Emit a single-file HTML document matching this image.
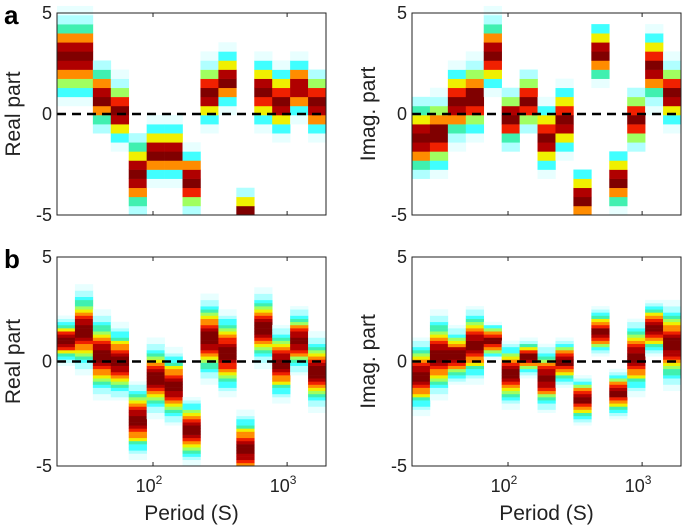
<!DOCTYPE html>
<html><head><meta charset="utf-8"><style>
body{margin:0;background:#fff}
svg{display:block;font-family:"Liberation Sans",sans-serif}
</style></head><body>
<svg id="fig" width="685" height="530" viewBox="0 0 685 530"></svg>
<script>
// ---- data: period columns (log-spaced, 15 per panel) ----
const xDomainLog = [1.284, 3.29];
const nCols = 15;
const aRealCenter = [2.8, 2.8, 0.8, 0.1, -3.0, -1.9, -1.9, -3.3, 1.0, 1.7, -4.9, 1.1, 0.6, 1.3, 0.5];
const aRealSpread = [1.0, 1.0, 0.8, 0.8, 0.9, 0.7, 0.7, 0.8, 0.8, 0.7, 0.55, 0.8, 0.8, 0.7, 0.8];
const aImagCenter = [-1.2, -1.0, 0.5, 0.8, 3.0, -0.2, 0.6, -1.2, -0.3, -4.2, 3.0, -3.3, -0.3, 2.3, 1.0];
const aImagSpread = [0.9, 0.9, 0.9, 0.9, 0.9, 0.7, 0.7, 0.8, 0.8, 0.7, 0.7, 0.7, 0.7, 0.9, 0.8];
const bRealCenter = [1.0, 1.5, 0.3, 0.0, -2.8, -0.8, -1.2, -3.3, 1.1, 0.4, -4.2, 1.6, -0.1, 1.0, -0.5];
const bRealSpread = [0.5, 0.9, 0.9, 0.8, 0.8, 0.8, 0.8, 0.7, 0.9, 0.9, 0.8, 0.8, 0.8, 0.7, 0.8];
const bImagCenter = [-0.7, 0.3, 0.3, 0.8, 1.0, -0.6, 0.2, -0.8, 0.0, -1.8, 1.4, -1.5, 0.2, 1.6, 0.8];
const bImagSpread = [0.8, 0.9, 0.6, 0.8, 0.4, 0.7, 0.4, 0.7, 0.5, 0.5, 0.5, 0.5, 0.8, 0.6, 0.9];
const yTicks = [5, 0, -5];
const xTickExp = [2, 3];

const NS = "http://www.w3.org/2000/svg";
const svg = document.getElementById('fig');
function el(tag, attrs, parent){const e=document.createElementNS(NS,tag);for(const k in attrs)e.setAttribute(k,attrs[k]);(parent||svg).appendChild(e);return e;}

const colorSteps = [[0.95,'#800000'],[0.86,'#b00000'],[0.74,'#f02000'],[0.62,'#ff8c00'],[0.51,'#f0f000'],[0.41,'#a0ff60'],[0.31,'#40f0b0'],[0.21,'#40ffff'],[0.12,'#b0ffff'],[0.06,'#e8ffff']];
function colorFor(v){for(const [t,c] of colorSteps) if(v>=t) return c; return null;}

function panel(x0, y0, w, h, centers, spreads, bin, name, ylabel, letter, showX){
  const g = el('g', {});
  
  
  const xs = lv => x0 + (lv - xDomainLog[0])/(xDomainLog[1]-xDomainLog[0])*w;
  const ys = v => y0 + (5 - v)/10*h;
  const colW = w/nCols;
  centers.forEach((c,i)=>{
    const s = spreads[i];
    for(let v=-5; v<5-1e-9; v+=bin){
      const mid = v + bin/2;
      const inten = Math.exp(-((mid-c)*(mid-c))/(2*s*s));
      const col = colorFor(inten);
      if(!col) continue;
      const r = el('rect', {x:(x0+i*colW).toFixed(2), y:ys(v+bin).toFixed(2), width:(colW+0.3).toFixed(2), height:(ys(v)-ys(v+bin)+0.3).toFixed(2), fill:col}, g);
      
      
    }
  });
  const z = el('line', {x1:x0, x2:x0+w, y1:ys(0), y2:ys(0), stroke:'#000', 'stroke-width':2.5, 'stroke-dasharray':'9,6'}, g);
  
  
  const f = el('rect', {x:x0, y:y0, width:w, height:h, fill:'none', stroke:'#222', 'stroke-width':1}, g);
  
  
  xTickExp.forEach(e=>{
    const x = xs(e);
    el('line',{x1:x,x2:x,y1:y0,y2:y0+4,stroke:'#222'},g);
    el('line',{x1:x,x2:x,y1:y0+h,y2:y0+h-4,stroke:'#222'},g);
    if(showX){
      const t = el('text',{x:x-4,y:y0+h+26,'font-size':18,'text-anchor':'middle',fill:'#222'},g);
      
      
      t.textContent='10';
      const sup = el('tspan',{dy:-8,'font-size':12},t);
      sup.textContent=String(e);
    }
  });
  yTicks.forEach(v=>{
    const t = el('text',{x:x0-5,y:ys(v)+6,'font-size':18,'text-anchor':'end',fill:'#222'},g);
    
    
    t.textContent = v<0 ? '-'+Math.abs(v) : String(v);
  });
  const yl = el('text',{x:0,y:0,'font-size':21,'text-anchor':'middle',fill:'#222',transform:`translate(${x0-37},${y0+h/2}) rotate(-90)`},g);
  
  
  yl.textContent = ylabel;
  if(showX){
    const xl = el('text',{x:x0+w/2,y:y0+h+54,'font-size':21,'text-anchor':'middle',fill:'#222'},g);
    
    
    xl.textContent='Period (S)';
  }
  if(letter){
    const L = el('text',{x:4,y:y0+11,'font-size':26,'font-weight':'bold',fill:'#000'},g);
    
    
    L.textContent=letter;
  }
}
panel(57, 13, 269, 202, aRealCenter, aRealSpread, 0.45, 'panel-a-real', 'Real part', 'a', false);
panel(412, 13, 269, 202, aImagCenter, aImagSpread, 0.45, 'panel-a-imag', 'Imag. part', null, false);
panel(57, 257, 269, 209, bRealCenter, bRealSpread, 0.15, 'panel-b-real', 'Real part', 'b', true);
panel(412, 257, 269, 209, bImagCenter, bImagSpread, 0.15, 'panel-b-imag', 'Imag. part', null, true);
</script>
</body></html>
